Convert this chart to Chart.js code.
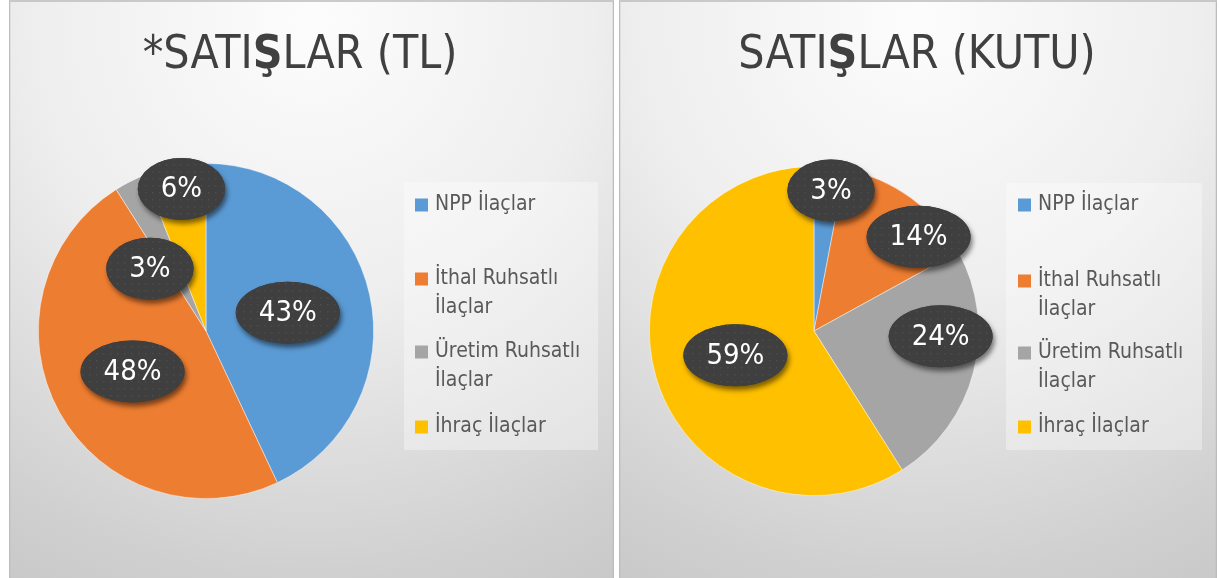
<!DOCTYPE html>
<html>
<head>
<meta charset="utf-8">
<script src="https://cdn.jsdelivr.net/npm/chart.js@4"></script>
<style>
html,body{margin:0;padding:0;background:#fff;width:1220px;height:578px;overflow:hidden;}
.panel{position:absolute;top:0;height:578px;}
#p1{left:9px;width:605px;}
#p2{left:619px;width:598px;}
canvas{display:block;}
</style>
</head>
<body>
<div class="panel" id="p1"><canvas id="c1" width="605" height="578"></canvas></div>
<div class="panel" id="p2"><canvas id="c2" width="598" height="578"></canvas></div>
<script>
// ---- data ----
const categories = ['NPP İlaçlar', 'İthal Ruhsatlı İlaçlar', 'Üretim Ruhsatlı İlaçlar', 'İhraç İlaçlar'];
const salesTL = [43, 48, 3, 6];
const salesBox = [3, 14, 24, 59];
const titleTL = ['*SATI', 'Ş', 'LAR (TL)'];
const titleBox = ['SATI', 'Ş', 'LAR (KUTU)'];
const colors = ['#5B9BD5', '#ED7D31', '#A5A5A5', '#FFC000'];

const FONT = "'Liberation Sans Narrow','DejaVu Sans Condensed','Roboto Condensed','Liberation Sans',sans-serif";

function makeDotPattern(ctx){
  const c = document.createElement('canvas');
  c.width = 7; c.height = 7;
  const g = c.getContext('2d');
  g.fillStyle = '#3f3f3f'; g.fillRect(0,0,7,7);
  g.fillStyle = '#4c4c4c'; g.fillRect(3,3,1.5,1.5);
  return ctx.createPattern(c,'repeat');
}

const panelPlugin = {
  id: 'panelDeco',
  beforeDraw(chart, args, opts){
    const ctx = chart.ctx, w = chart.width, h = chart.height;
    ctx.save();
    const g = ctx.createRadialGradient(w*0.5, 20, 10, w*0.5, 20, 690);
    g.addColorStop(0, '#fcfcfc');
    g.addColorStop(0.4, '#eeeeee');
    g.addColorStop(0.8, '#d0d0d0');
    g.addColorStop(1, '#c4c4c4');
    ctx.fillStyle = g;
    ctx.fillRect(0,0,w,h);
    ctx.strokeStyle = '#bcbcbc';
    ctx.lineWidth = 1.5;
    ctx.beginPath();
    ctx.moveTo(0.5,h); ctx.lineTo(0.5,1); ctx.lineTo(w-0.5,1); ctx.lineTo(w-0.5,h);
    ctx.stroke();
    // title
    const parts = opts.title;
    ctx.textBaseline = 'alphabetic';
    const fN = '46px ' + FONT, fB = 'bold 46px ' + FONT;
    let widths = parts.map((p,i)=>{ ctx.font = (i===1?fB:fN); return ctx.measureText(p).width; });
    let total = widths.reduce((a,b)=>a+b,0);
    let x = opts.titleX - total/2;
    ctx.fillStyle = '#404040';
    parts.forEach((p,i)=>{ ctx.font = (i===1?fB:fN); ctx.fillText(p, x, 68); x += widths[i]; });
    // legend box
    const lb = opts.legendBox;
    ctx.fillStyle = 'rgba(255,255,255,0.35)';
    ctx.fillRect(lb.x, lb.y, lb.w, lb.h);
    ctx.restore();
  },
  afterDatasetsDraw(chart, args, opts){
    const ctx = chart.ctx;
    const meta = chart.getDatasetMeta(0);
    const data = chart.data.datasets[0].data;
    const sum = data.reduce((a,b)=>a+b,0);
    const pat = makeDotPattern(ctx);
    ctx.save();
    ctx.font = '29px ' + FONT;
    meta.data.forEach((arc,i)=>{
      const p = arc.getProps(['x','y','startAngle','endAngle','outerRadius'], true);
      const pl = opts.place[i];
      const mid = (p.startAngle + p.endAngle)/2 + pl.da*Math.PI/180;
      const cx = p.x + Math.cos(mid)*p.outerRadius*pl.r;
      const cy = p.y + Math.sin(mid)*p.outerRadius*pl.r;
      const txt = Math.round(data[i]/sum*100) + '%';
      const tw = ctx.measureText(txt).width;
      const rx = tw/2 + 23, ry = 31;
      ctx.save();
      ctx.shadowColor = 'rgba(0,0,0,0.5)';
      ctx.shadowBlur = 5;
      ctx.shadowOffsetX = 2;
      ctx.shadowOffsetY = 4;
      ctx.beginPath();
      ctx.ellipse(cx, cy, rx, ry, 0, 0, Math.PI*2);
      ctx.fillStyle = '#404040';
      ctx.fill();
      ctx.restore();
      ctx.beginPath();
      ctx.ellipse(cx, cy, rx, ry, 0, 0, Math.PI*2);
      ctx.fillStyle = pat;
      ctx.fill();
      ctx.fillStyle = '#ffffff';
      ctx.textAlign = 'center';
      ctx.textBaseline = 'middle';
      ctx.fillText(txt, cx, cy+1);
    });
    ctx.restore();
    // legend
    const lb = opts.legendBox;
    ctx.save();
    ctx.font = '21px ' + FONT;
    ctx.textBaseline = 'middle';
    ctx.textAlign = 'left';
    const maxW = lb.x + lb.w - opts.legendTextX - 6;
    chart.data.labels.forEach((lab,i)=>{
      const words = lab.split(' ');
      const lines = [];
      let cur = '';
      words.forEach(wd=>{
        const t = cur ? cur + ' ' + wd : wd;
        if (cur && ctx.measureText(t).width > maxW) { lines.push(cur); cur = wd; } else cur = t;
      });
      if (cur) lines.push(cur);
      const y0 = opts.legendY[i];
      ctx.fillStyle = colors[i];
      ctx.fillRect(opts.legendTextX - 20, y0 - 6.5, 13, 13);
      ctx.fillStyle = '#595959';
      lines.forEach((ln,k)=> ctx.fillText(ln, opts.legendTextX, y0 + k*29));
    });
    ctx.restore();
  }
};

function makeChart(id, values, title, cfg){
  return new Chart(document.getElementById(id), {
    type: 'pie',
    data: {
      labels: categories,
      datasets: [{
        data: values,
        backgroundColor: colors,
        borderColor: 'rgba(255,255,255,0.6)',
        borderWidth: 0.75
      }]
    },
    options: {
      responsive: false,
      animation: false,
      events: [],
      layout: { padding: cfg.padding },
      plugins: {
        legend: { display: false },
        tooltip: { enabled: false },
        title: { display: false },
        panelDeco: Object.assign({ title: title }, cfg)
      }
    },
    plugins: [panelPlugin]
  });
}

makeChart('c1', salesTL, titleTL, {
  padding: { left: 29, right: 240, top: 163, bottom: 79 },
  titleX: 291,
  legendBox: { x: 395, y: 182, w: 194, h: 268 },
  legendTextX: 426,
  legendY: [205, 279, 352, 427],
  place: [ {r:0.5, da:0}, {r:0.5, da:0}, {r:0.5, da:-15}, {r:0.86, da:1} ]
});

makeChart('c2', salesBox, titleBox, {
  padding: { left: 30, right: 238, top: 166, bottom: 82 },
  titleX: 298,
  legendBox: { x: 387, y: 183, w: 196, h: 267 },
  legendTextX: 419,
  legendY: [205, 281, 353, 427],
  place: [ {r:0.86, da:1.5}, {r:0.855, da:12}, {r:0.77, da:-12}, {r:0.5, da:-1} ]
});
</script>
</body>
</html>
